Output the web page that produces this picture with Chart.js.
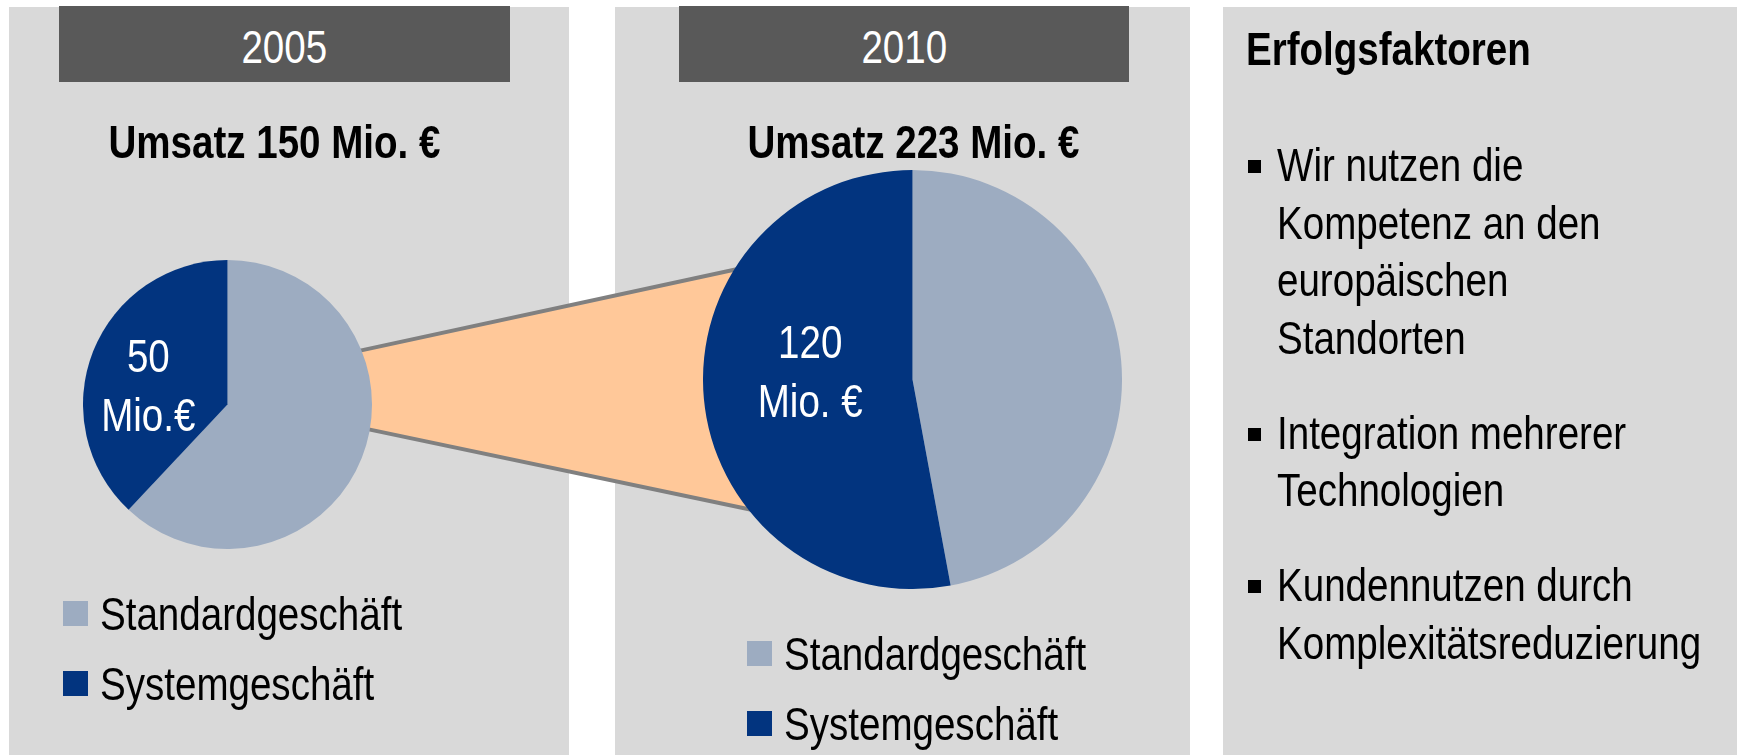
<!DOCTYPE html>
<html lang="de">
<head>
<meta charset="utf-8">
<title>Umsatz 2005 / 2010</title>
<script src="https://cdn.jsdelivr.net/npm/chart.js@4.4.1/dist/chart.umd.min.js"></script>
<style>
  html, body { margin: 0; padding: 0; background: #fff; }
  body {
    width: 1739px; height: 755px; position: relative; overflow: hidden;
    font-family: "Liberation Sans", Arial, sans-serif;
    color: #000;
  }
  /* Arial Narrow is not installed: squeeze Liberation Sans instead */
  .nc, .nl { display: inline-block; white-space: nowrap; transform: scaleX(0.82); }
  .nc { transform-origin: 50% 50%; }
  .nl { transform-origin: 0 50%; }

  .panel { position: absolute; top: 7px; height: 748px; background: #d9d9d9; z-index: 0; }
  .year {
    position: absolute; top: 6px; height: 76px; box-sizing: border-box; padding-top: 17px;
    background: #595959; color: #fff; font-size: 47px; line-height: 47px; text-align: center; z-index: 3;
  }
  .title {
    position: absolute; top: 118px; width: 500px; text-align: center;
    font-size: 47px; line-height: 47px; font-weight: bold; z-index: 3;
  }
  canvas { position: absolute; }
  #connector { left: 0; top: 0; z-index: 1; }
  .pie { z-index: 2; }
  .legend { position: absolute; z-index: 3; }
  .legend .item { display: flex; align-items: center; height: 25px; margin-bottom: 44.5px; }
  .legend .box { width: 25px; height: 25px; margin-right: 12px; flex: none; }
  .legend .txt { font-size: 47px; line-height: 25px; }
  #factorsHead {
    position: absolute; left: 1246px; top: 25px; font-size: 47px; line-height: 47px;
    font-weight: bold; z-index: 3;
  }
  #factors { position: absolute; left: 1277px; top: 136px; z-index: 3; }
  #factors .para { position: relative; font-size: 47px; line-height: 57.5px; }
  #factors .para + .para { margin-top: 37.5px; }
  #factors .para::before {
    content: ""; position: absolute; left: -29px; top: 24px; width: 13px; height: 13px; background: #000;
  }
</style>
</head>
<body>
  <div class="panel" style="left:9px;width:560px"></div>
  <div class="panel" style="left:615px;width:575px"></div>
  <div class="panel" style="left:1223px;width:514px"></div>

  <div class="year" id="year0" style="left:59px;width:451px"></div>
  <div class="year" id="year1" style="left:679px;width:450px"></div>
  <div class="title" id="title0" style="left:24px"></div>
  <div class="title" id="title1" style="left:663px"></div>

  <canvas id="connector" width="1739" height="755"></canvas>
  <canvas id="pie2005" class="pie" width="289" height="289" style="left:83px;top:260px"></canvas>
  <canvas id="pie2010" class="pie" width="419" height="419" style="left:703px;top:170px"></canvas>

  <div class="legend" id="legend0" style="left:63px;top:601px"></div>
  <div class="legend" id="legend1" style="left:747px;top:641px"></div>

  <div id="factorsHead"><span class="nl">Erfolgsfaktoren</span></div>
  <div id="factors"></div>

<script>
const FONT = '"Liberation Sans", Arial, sans-serif';
const SQUEEZE = 0.82;

const years = ['2005', '2010'];
const revenue = [150, 223];
const seriesLabels = ['Standardgeschäft', 'Systemgeschäft'];
const seriesColors = ['#9dacc1', '#02347f'];
// slice sizes as drawn in the picture (Mio. €)
const values2005 = [93, 57];
const values2010 = [105, 118];
const sliceText2005 = ['50', 'Mio.€'];
const sliceText2010 = ['120', 'Mio. €'];
const factors = [
  ['Wir nutzen die', 'Kompetenz an den', 'europäischen', 'Standorten'],
  ['Integration mehrerer', 'Technologien'],
  ['Kundennutzen durch', 'Komplexitätsreduzierung'],
];

document.addEventListener('DOMContentLoaded', () => {
  fillTexts();
  const a = makePie('pie2005', values2005, sliceText2005, -12, 7);
  const b = makePie('pie2010', values2010, sliceText2010, 2, -19);
  drawConnector(a, b);
});

function fillTexts() {
  years.forEach((y, i) => {
    document.getElementById('year' + i).innerHTML = `<span class="nc">${y}</span>`;
    document.getElementById('title' + i).innerHTML = `<span class="nc">Umsatz ${revenue[i]} Mio. €</span>`;
    const legend = document.getElementById('legend' + i);
    seriesLabels.forEach((label, j) => {
      const item = document.createElement('div');
      item.className = 'item';
      item.innerHTML = `<span class="box" style="background:${seriesColors[j]}"></span><span class="txt nl">${label}</span>`;
      legend.appendChild(item);
    });
  });

  const box = document.getElementById('factors');
  factors.forEach((lines) => {
    const p = document.createElement('div');
    p.className = 'para';
    p.innerHTML = `<span class="nl">${lines.join('<br>')}</span>`;
    box.appendChild(p);
  });
}

function sliceLabel(lines, dx, dy) {
  return {
    id: 'sliceLabel',
    afterDatasetsDraw(chart) {
      const arc = chart.getDatasetMeta(0).data[1];
      const { x, y } = arc.getCenterPoint();
      const ctx = chart.ctx;
      ctx.save();
      ctx.translate(x + dx, y + dy);
      ctx.scale(SQUEEZE, 1);
      ctx.fillStyle = '#fff';
      ctx.font = `47px ${FONT}`;
      ctx.textAlign = 'center';
      ctx.textBaseline = 'alphabetic';
      ctx.fillText(lines[0], 0, -12.5);
      ctx.fillText(lines[1], 0, 46.5);
      ctx.restore();
    },
  };
}

function makePie(id, values, lines, dx, dy) {
  return new Chart(document.getElementById(id), {
    type: 'pie',
    data: {
      labels: seriesLabels,
      datasets: [{
        data: values,
        backgroundColor: seriesColors,
        borderWidth: 0,
        hoverOffset: 0,
      }],
    },
    options: {
      responsive: false,
      animation: false,
      events: [],
      plugins: { legend: { display: false }, tooltip: { enabled: false } },
    },
    plugins: [sliceLabel(lines, dx, dy)],
  });
}

// peach "zoom" band between the two pies, drawn behind them
function drawConnector(a, b) {
  const ctx = document.getElementById('connector').getContext('2d');
  const edge = (chart, deg) => {
    const arc = chart.getDatasetMeta(0).data[0];
    const c = chart.canvas;
    const r = deg * Math.PI / 180;
    return {
      x: c.offsetLeft + arc.x + arc.outerRadius * Math.cos(r),
      y: c.offsetTop + arc.y + arc.outerRadius * Math.sin(r),
    };
  };
  const stretch = (p, q, d) => {
    const dx = q.x - p.x, dy = q.y - p.y, l = Math.hypot(dx, dy);
    return [{ x: p.x - dx / l * d, y: p.y - dy / l * d }, { x: q.x + dx / l * d, y: q.y + dy / l * d }];
  };
  const [t1, t2] = stretch(edge(a, -22), edge(b, 211.6), 12);
  const [b1, b2] = stretch(edge(a, 10), edge(b, 141.8), 12);

  ctx.fillStyle = '#ffc899';
  ctx.beginPath();
  ctx.moveTo(t1.x, t1.y);
  ctx.lineTo(t2.x, t2.y);
  ctx.lineTo(b2.x, b2.y);
  ctx.lineTo(b1.x, b1.y);
  ctx.closePath();
  ctx.fill();

  ctx.strokeStyle = '#808080';
  ctx.lineWidth = 4;
  [[t1, t2], [b1, b2]].forEach(([p, q]) => {
    ctx.beginPath();
    ctx.moveTo(p.x, p.y);
    ctx.lineTo(q.x, q.y);
    ctx.stroke();
  });
}
</script>
</body>
</html>
